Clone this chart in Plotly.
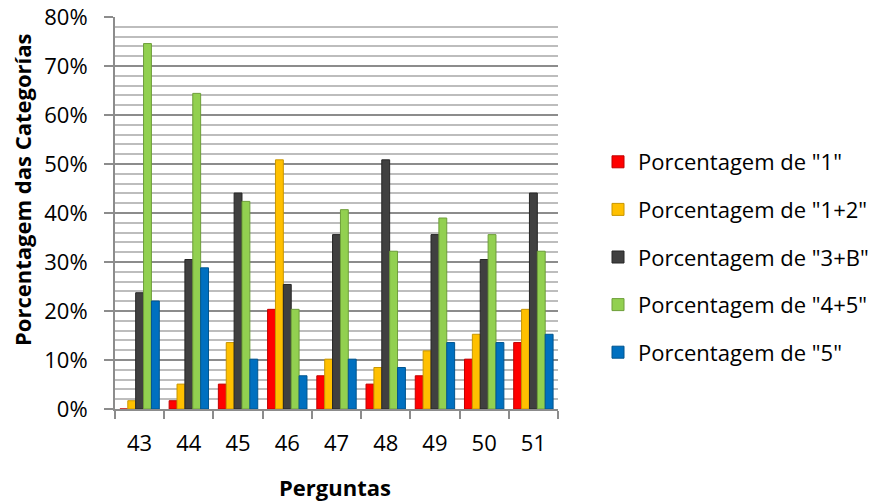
import plotly.graph_objects as go

categories = ["43", "44", "45", "46", "47", "48", "49", "50", "51"]
series_names = ['Porcentagem de "1"', 'Porcentagem de "1+2"', 'Porcentagem de "3+B"',
                'Porcentagem de "4+5"', 'Porcentagem de "5"']
pct_1 = [0.0, 1.69, 5.08, 20.34, 6.78, 5.08, 6.78, 10.17, 13.56]
pct_12 = [1.69, 5.08, 13.56, 50.85, 10.17, 8.47, 11.86, 15.25, 20.34]
pct_3b = [23.73, 30.51, 44.07, 25.42, 35.59, 50.85, 35.59, 30.51, 44.07]
pct_45 = [74.58, 64.41, 42.37, 20.34, 40.68, 32.20, 38.98, 35.59, 32.20]
pct_5 = [22.03, 28.81, 10.17, 6.78, 10.17, 8.47, 13.56, 13.56, 15.25]
colors = ["#FF0000", "#FFC000", "#404040", "#92D050", "#0070C0"]
edge_colors = ["#C00000", "#C89600", "#262626", "#6E9E3A", "#00558F"]

series = [pct_1, pct_12, pct_3b, pct_45, pct_5]
font = "Open Sans"

W, H = 883, 502
x0, x1, y0, y1 = 115, 558, 17, 409   # plot area (px)
L, R, T, B = x0, W - x1, y0, H - y1
pw, ph = x1 - x0, y1 - y0


def px(xs):
    return (xs - x0) / pw


def py(ys):
    return (y1 - ys) / ph


fig = go.Figure()
for i, (name, vals) in enumerate(zip(series_names, series)):
    fig.add_trace(go.Bar(
        x=categories, y=[v / 100 for v in vals], name=name,
        marker=dict(color=colors[i], line=dict(color=edge_colors[i], width=1)),
        legendgroup=str(i),
    ))

fig.update_layout(
    width=W, height=H,
    margin=dict(l=L, r=R, t=T, b=B, autoexpand=False),
    paper_bgcolor="white", plot_bgcolor="white",
    barmode="group", bargap=0.2, bargroupgap=0.0,
    font=dict(family=font, size=22, color="#000000"),
    legend=dict(x=px(598), y=py(257), xanchor="left", yanchor="middle",
                font=dict(family=font, size=22), tracegroupgap=16,
                itemwidth=30),
    showlegend=True,
    annotations=[
        dict(text="<b>Porcentagem das Categorías</b>", textangle=-90,
             xref="paper", yref="paper", x=px(22), y=py(190),
             xanchor="center", yanchor="middle", showarrow=False,
             font=dict(family=font, size=22)),
        dict(text="<b>Perguntas</b>",
             xref="paper", yref="paper", x=px(335), y=py(487),
             xanchor="center", yanchor="middle", showarrow=False,
             font=dict(family=font, size=22)),
    ],
)
fig.update_yaxes(
    range=[0, 0.8], dtick=0.1, tickformat=".0%",
    showgrid=True, gridcolor="#8C8C8C", gridwidth=2,
    minor=dict(dtick=0.02, showgrid=True, gridcolor="#BDBDBD", gridwidth=2),
    showline=True, linecolor="#8C8C8C", linewidth=2,
    ticks="outside", ticklen=9, tickcolor="#8C8C8C", tickwidth=2,
    zeroline=False, automargin=False, ticklabelstandoff=12,
    tickfont=dict(family=font, size=22),
)
fig.update_xaxes(
    showline=True, linecolor="#8C8C8C", linewidth=2,
    ticks="outside", tickson="boundaries", ticklen=8, tickcolor="#8C8C8C", tickwidth=2,
    automargin=False, ticklabelstandoff=14,
    tickfont=dict(family=font, size=22),
)

fig.write_html("out.html", config={"displayModeBar": False},
               post_script="document.body.style.margin='0';document.body.style.overflow='hidden';")
